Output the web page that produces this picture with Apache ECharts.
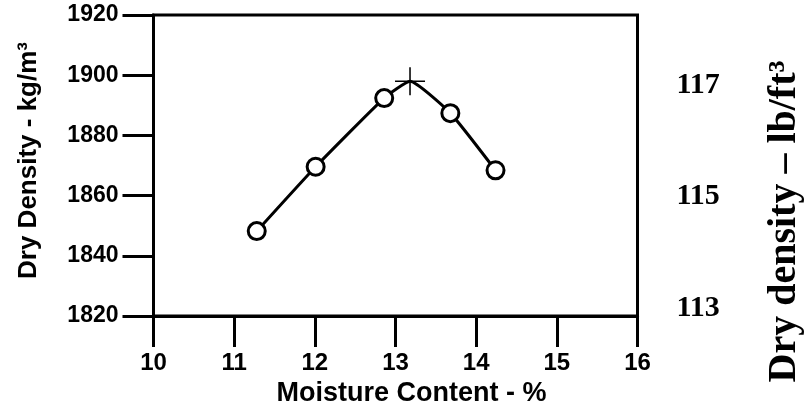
<!DOCTYPE html>
<html>
<head>
<meta charset="utf-8">
<script src="https://cdn.jsdelivr.net/npm/echarts@6/dist/echarts.min.js"></script>
<style>html,body{margin:0;padding:0;background:#fff;overflow:hidden}#c{width:805px;height:410px}</style>
</head>
<body>
<div id="c"></div>
<script>
// Data
var moisture = [11.28, 12.01, 12.86, 13.68, 14.24];
var density = [1848.2, 1869.6, 1892.4, 1887.4, 1868.4];
var peakMoisture = 13.18;
var peakDensity = 1898.0;
var rightTicks = [113, 115, 117];

var pts = moisture.map(function (m, i) { return [m, density[i]]; });
var curve = pts.slice(0, 3).concat([[peakMoisture, peakDensity]], pts.slice(3));

var chart = echarts.init(document.getElementById('c'));
var sans = 'Liberation Sans, Arial, sans-serif';
var serif = 'Liberation Serif, Times New Roman, serif';
chart.setOption({
  animation: false,
  backgroundColor: '#fff',
  grid: { left: 153.5, top: 15, width: 484, height: 301, show: true, borderColor: '#000', borderWidth: 3, backgroundColor: 'transparent', outerBoundsMode: 'none', containLabel: false },
  xAxis: {
    type: 'value', min: 10, max: 16, interval: 1,
    name: 'Moisture Content - %', nameLocation: 'middle', nameGap: 62,
    nameTextStyle: { fontFamily: sans, fontWeight: 'bold', fontSize: 27, color: '#000', padding: [0, 0, 0, 32] },
    axisLine: { lineStyle: { color: '#000', width: 3 } },
    axisTick: { length: 31, lineStyle: { color: '#000', width: 3 } },
    axisLabel: { margin: 35, fontFamily: sans, fontWeight: 'bold', fontSize: 24, color: '#000' },
    splitLine: { show: false }
  },
  yAxis: [{
    type: 'value', min: 1820, max: 1920, interval: 20,
    name: 'Dry Density - kg/m³', nameLocation: 'middle', nameGap: 112, nameRotate: 90,
    nameTextStyle: { fontFamily: sans, fontWeight: 'bold', fontSize: 26, color: '#000', padding: [0, 0, 0, 10] },
    axisLine: { lineStyle: { color: '#000', width: 3 } },
    axisTick: { length: 31, lineStyle: { color: '#000', width: 3 } },
    axisLabel: { margin: 35, fontFamily: sans, fontWeight: 'bold', fontSize: 23, color: '#000', formatter: function (v) { return String(v); } },
    splitLine: { show: false }
  }, {
    type: 'value', position: 'right', min: 112.862, max: 118.254,
    name: 'Dry density – lb/ft³', nameLocation: 'middle', nameGap: 127, nameRotate: 90,
    nameTextStyle: { fontFamily: serif, fontWeight: 'bold', fontSize: 40, color: '#000', padding: [0, 112, 0, 0] },
    axisLine: { show: false },
    axisTick: { show: false },
    axisLabel: { customValues: rightTicks, margin: 39, fontFamily: serif, fontWeight: 'bold', fontSize: 30, color: '#000' },
    splitLine: { show: false }
  }],
  series: [{
    type: 'line', data: curve, smooth: 0.15, showSymbol: false, symbol: 'none',
    lineStyle: { color: '#000', width: 3 }, z: 2
  }, {
    type: 'scatter', data: pts, symbol: 'circle', symbolSize: 17,
    itemStyle: { color: '#fff', borderColor: '#000', borderWidth: 3, opacity: 1 }, z: 3
  }, {
    type: 'scatter', data: [[peakMoisture, peakDensity]],
    symbol: 'path://M0,-14L0,14M-15,0L15,0', symbolSize: [30, 28],
    itemStyle: { color: 'none', borderColor: '#000', borderWidth: 1.5, opacity: 1 }, z: 4
  }]
});
</script>
</body>
</html>
